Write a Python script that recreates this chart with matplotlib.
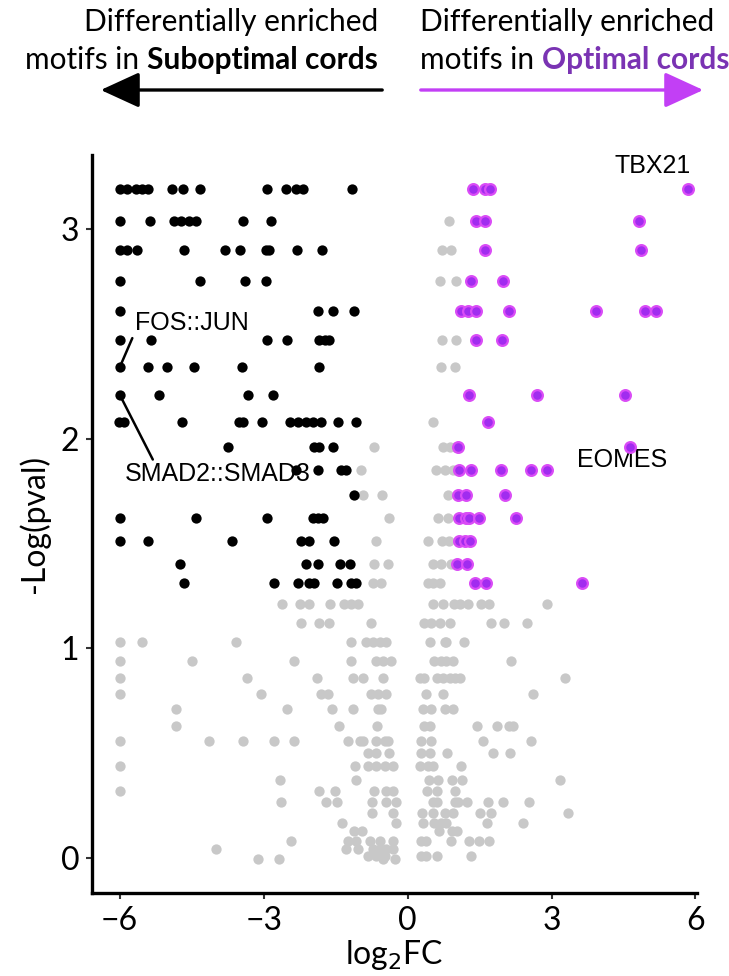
import matplotlib.pyplot as plt
from matplotlib.patches import FancyArrowPatch

# -log(pval) levels and log2FC values, motifs enriched in suboptimal cords (black)
sub_y = [3.19, 3.04, 2.90, 2.75, 2.61, 2.47, 2.34, 2.21, 2.08, 1.96, 1.85, 1.73, 1.62, 1.51, 1.40, 1.31]
sub_x = [
    [-6.0, -5.84, -5.66, -5.53, -5.42, -4.91, -4.69, -4.33, -2.92, -2.53, -2.32, -2.17, -1.15],
    [-6.0, -5.37, -4.86, -4.72, -4.55, -4.40, -3.42, -2.85],
    [-6.0, -5.84, -5.63, -4.67, -3.81, -3.49, -2.96, -2.88, -2.31, -1.78],
    [-6.0, -4.33, -3.39, -2.96],
    [-6.0, -1.86, -1.56, -1.11],
    [-6.0, -5.35, -2.92, -2.51, -1.84, -1.73, -1.63],
    [-6.0, -5.41, -5.02, -4.46, -3.46, -1.85],
    [-6.0, -5.18, -3.32, -2.81],
    [-6.02, -5.92, -4.71, -3.51, -3.44, -3.03, -2.46, -2.29, -2.11, -1.98, -1.80, -1.46, -1.07],
    [-3.75, -1.94, -1.84, -1.56],
    [-2.32, -1.86, -1.38, -1.28],
    [-1.11],
    [-6.0, -4.41, -2.94, -1.98, -1.87, -1.77],
    [-6.0, -5.42, -3.65, -2.22, -2.05, -1.54],
    [-4.75, -2.11, -1.86, -1.41, -1.21],
    [-4.66, -2.78, -2.28, -2.05, -1.94, -1.47, -1.18, -1.07],
]

# motifs enriched in optimal cords (purple)
opt_y = [3.19, 3.04, 2.90, 2.75, 2.61, 2.47, 2.21, 2.08, 1.96, 1.85, 1.73, 1.62, 1.51, 1.40, 1.31]
opt_x = [
    [1.36, 1.61, 1.71, 5.85],
    [1.43, 1.61, 4.82],
    [1.61, 4.86],
    [1.32, 1.99],
    [1.11, 1.25, 1.43, 2.11, 3.92, 4.95, 5.18],
    [1.43, 1.97],
    [1.29, 2.69, 4.53],
    [1.68],
    [1.06, 4.63],
    [1.07, 1.32, 1.94, 2.58, 2.91],
    [1.05, 1.21, 2.04],
    [1.07, 1.22, 1.29, 1.48, 2.25],
    [1.07, 1.19, 1.31],
    [1.03, 1.24],
    [1.41, 1.63, 3.63],
]

# not significant (grey)
ns_y = [3.04, 2.90, 2.75, 2.47, 2.34, 2.08, 1.96, 1.85, 1.73, 1.62, 1.51, 1.40, 1.31,
        1.21, 1.12, 1.03, 0.94, 0.86, 0.78, 0.71, 0.63, 0.56, 0.50, 0.44, 0.37, 0.32,
        0.265, 0.216, 0.168, 0.13, 0.083, 0.045, 0.01, -0.005]
ns_x = [
    [0.86],
    [0.72, 0.91],
    [0.67, 1.0],
    [0.72, 1.0],
    [0.70, 0.98],
    [0.53],
    [-0.69, 0.74, 0.88, 0.98],
    [-0.97, 0.60, 0.79, 0.95],
    [-0.93, -0.53, 0.84],
    [-0.38, 0.63, 0.84],
    [-0.65, 0.42, 0.72, 0.86],
    [-0.69, -0.41, 0.53, 0.70, 0.91],
    [-0.72, -0.55, 0.42, 0.53, 0.68],
    [-2.62, -2.25, -2.05, -1.61, -1.33, -1.18, -1.04, 0.53, 0.74, 0.97, 1.09, 1.26, 1.52, 1.70, 2.90],
    [-2.23, -1.85, -1.64, -0.76, 0.35, 0.49, 0.67, 0.88, 1.73, 2.01, 2.48],
    [-6.0, -5.54, -3.58, -1.18, -0.86, -0.72, -0.58, -0.44, 0.47, 0.77, 0.81, 1.18],
    [-6.0, -4.50, -2.36, -1.18, -0.65, -0.52, -0.34, 0.56, 0.70, 0.81, 0.95, 2.15],
    [-6.0, -3.35, -1.89, -1.14, -0.93, -0.52, 0.25, 0.35, 0.61, 0.74, 0.88, 0.98, 1.10, 3.29],
    [-6.0, -3.05, -1.80, -1.66, -0.76, -0.62, -0.44, 0.39, 0.74, 2.62],
    [-4.82, -2.51, -1.57, -1.14, -0.62, -0.55, 0.32, 0.49, 0.79, 0.95],
    [-4.82, -1.42, -0.63, 0.35, 0.46, 1.45, 1.87, 2.11, 2.20],
    [-6.0, -4.13, -3.44, -2.78, -2.36, -1.25, -1.0, -0.93, -0.65, -0.48, -0.41, 0.29, 0.49, 1.57, 2.58],
    [-0.83, -0.65, -0.38, 0.29, 0.47, 0.83, 1.78, 2.14],
    [-6.0, -1.09, -0.83, -0.65, -0.48, -0.31, 0.26, 0.42, 0.53, 1.11],
    [-2.65, -1.07, 0.44, 0.63, 0.93, 1.14, 3.17],
    [-6.0, -1.84, -1.52, -0.69, -0.44, -0.31, 0.40, 0.61, 0.98],
    [-2.64, -1.70, -1.48, -0.74, -0.44, -0.24, 0.53, 0.61, 0.98, 1.05, 1.23, 1.68, 1.99, 2.53],
    [-0.74, -0.31, 0.31, 0.53, 0.77, 0.95, 1.50, 1.73, 3.35],
    [-1.36, -0.24, 0.33, 0.56, 0.70, 0.81, 1.66, 2.41],
    [-1.11, -0.95, 0.65, 0.93, 1.03],
    [-2.43, -1.25, -1.07, -0.79, -0.58, -0.31, 0.29, 0.38, 0.90, 1.29, 1.48, 1.70],
    [-3.99, -1.28, -1.04, -0.72, -0.58, -0.44, -0.31],
    [-0.83, -0.65, -0.48, 0.29, 0.39, 0.61, 1.32],
    [-3.11, -2.67, -0.52, -0.27],
]

labels = ["TBX21", "EOMES", "FOS::JUN", "SMAD2::SMAD3"]
label_pts = [(5.85, 3.19), (4.63, 1.96), (-6.0, 2.34), (-6.0, 2.21)]


def flatten(xs, ys):
    px, py = [], []
    for row, y in zip(xs, ys):
        px += row
        py += [y] * len(row)
    return px, py


fig = plt.figure(figsize=(7.29, 9.76), dpi=100)
ax = fig.add_axes([0.126, 0.085, 0.830, 0.756])

gx, gy = flatten(ns_x, ns_y)
bx, by = flatten(sub_x, sub_y)
px, py = flatten(opt_x, opt_y)
ax.scatter(gx, gy, s=55, color='#c8c8c8', linewidths=0, zorder=2)
ax.scatter(bx, by, s=55, color='black', linewidths=0, zorder=3)
ax.scatter(px, py, s=60, facecolor='#a12cef', edgecolor='#da4cf6', linewidths=1.6, zorder=4)

ax.set_xlim(-6.58, 6.03)
ax.set_ylim(-0.167, 3.352)
ax.set_xticks([-6, -3, 0, 3, 6])
ax.set_yticks([0, 1, 2, 3])
for s in ['top', 'right']:
    ax.spines[s].set_visible(False)
for s in ['left', 'bottom']:
    ax.spines[s].set_linewidth(2.4)
ax.tick_params(length=4, width=1.5, color='#333333', labelsize=23, pad=5)
for t in ax.get_xticklabels() + ax.get_yticklabels():
    t.set_family(['Lato', 'DejaVu Sans'])

ax.set_xlabel('log$_2$FC', fontsize=23, family=['Lato', 'DejaVu Sans'], labelpad=2)
ax.set_ylabel('-Log(pval)', fontsize=23, family=['Lato', 'DejaVu Sans'], labelpad=8)

# labels of highlighted motifs
nf = ['Liberation Sans', 'DejaVu Sans']
ax.text(5.11, 3.30, labels[0], fontsize=18, family=nf, ha='center', va='center')
ax.text(4.47, 1.90, labels[1], fontsize=18, family=nf, ha='center', va='center')
ax.annotate(labels[2], xy=label_pts[2], xytext=(-5.69, 2.55), fontsize=18, family=nf,
            ha='left', va='center',
            arrowprops=dict(arrowstyle='-', color='black', lw=1.8, shrinkA=0, shrinkB=3,
                            relpos=(0.0, 0.1)))
ax.annotate(labels[3], xy=label_pts[3], xytext=(-5.9, 1.83), fontsize=18, family=nf,
            ha='left', va='center',
            arrowprops=dict(arrowstyle='-', color='black', lw=1.8, shrinkA=0, shrinkB=3,
                            relpos=(0.16, 1.0)))

# header text with arrows
hf = ['Lato', 'DejaVu Sans']
H = 976.0
W = 729.0
fs = 21.5
fig.text(378 / W, 1 - 22 / H, 'Differentially enriched', fontsize=fs, family=hf, ha='right', va='center')
b1 = fig.text(378 / W, 1 - 60 / H, 'Suboptimal cords', fontsize=fs, family=hf, weight='bold',
              ha='right', va='center')
fig.text(420 / W, 1 - 22 / H, 'Differentially enriched', fontsize=fs, family=hf, ha='left', va='center')
n2 = fig.text(420 / W, 1 - 60 / H, 'motifs in ', fontsize=fs, family=hf, ha='left', va='center')

fig.canvas.draw()
r = fig.canvas.get_renderer()
e1 = b1.get_window_extent(r)
fig.text(e1.x0 / W, 1 - 60 / H, 'motifs in ', fontsize=fs, family=hf, ha='right', va='center')
e2 = n2.get_window_extent(r)
fig.text(e2.x1 / W, 1 - 60 / H, 'Optimal cords', fontsize=fs, family=hf, weight='bold',
         color='#7a33b3', ha='left', va='center')

a1 = FancyArrowPatch((385 / W, 1 - 90 / H), (98 / W, 1 - 90 / H), transform=fig.transFigure,
                     arrowstyle='-|>,head_length=2.4,head_width=1.1', mutation_scale=10,
                     color='black', lw=2.4)
a2 = FancyArrowPatch((418 / W, 1 - 90 / H), (706 / W, 1 - 90 / H), transform=fig.transFigure,
                     arrowstyle='-|>,head_length=2.4,head_width=1.1', mutation_scale=10,
                     color='#c23ff5', lw=2.4)
fig.add_artist(a1)
fig.add_artist(a2)

plt.savefig('out.png', dpi=100)
